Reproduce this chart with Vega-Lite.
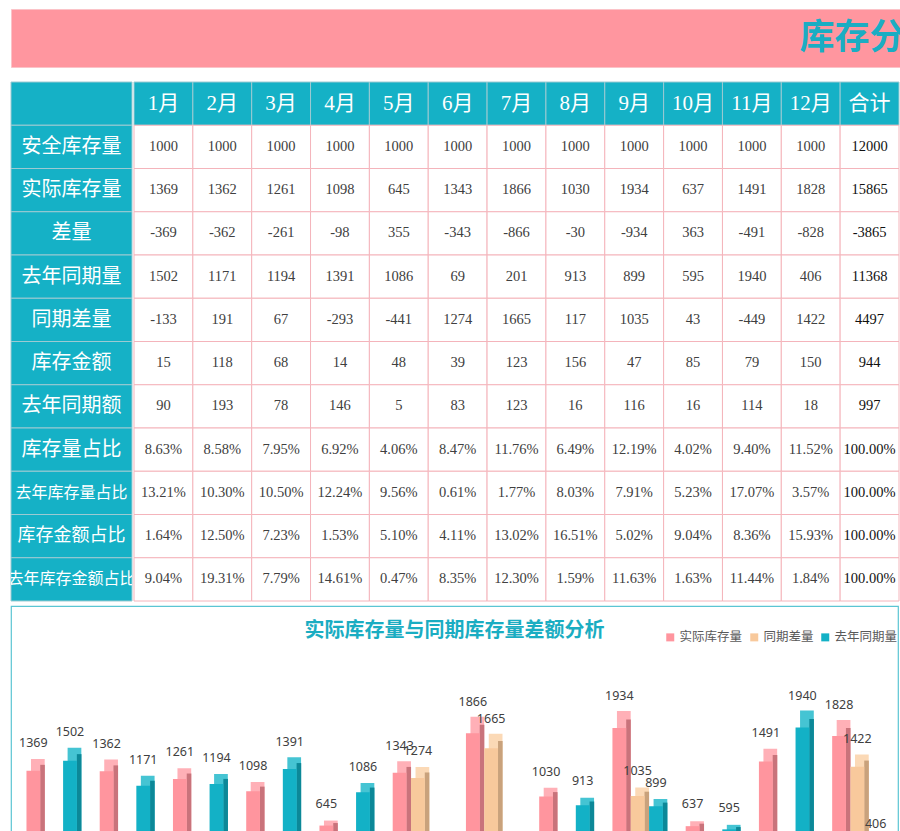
{
  "$schema": "https://vega.github.io/schema/vega-lite/v6.json",
  "padding": {"left": 10, "top": 8, "right": 0, "bottom": 0},
  "spacing": 13,
  "config": {"view": {"stroke": null}, "concat": {"spacing": 0}},
  "datasets": {
    "tbl": [
      {"r": "", "1月": "1月", "2月": "2月", "3月": "3月", "4月": "4月", "5月": "5月", "6月": "6月", "7月": "7月", "8月": "8月", "9月": "9月", "10月": "10月", "11月": "11月", "12月": "12月", "合计": "合计"},
      {"r": "安全库存量", "1月": "1000", "2月": "1000", "3月": "1000", "4月": "1000", "5月": "1000", "6月": "1000", "7月": "1000", "8月": "1000", "9月": "1000", "10月": "1000", "11月": "1000", "12月": "1000", "合计": "12000"},
      {"r": "实际库存量", "1月": "1369", "2月": "1362", "3月": "1261", "4月": "1098", "5月": "645", "6月": "1343", "7月": "1866", "8月": "1030", "9月": "1934", "10月": "637", "11月": "1491", "12月": "1828", "合计": "15865"},
      {"r": "差量", "1月": "-369", "2月": "-362", "3月": "-261", "4月": "-98", "5月": "355", "6月": "-343", "7月": "-866", "8月": "-30", "9月": "-934", "10月": "363", "11月": "-491", "12月": "-828", "合计": "-3865"},
      {"r": "去年同期量", "1月": "1502", "2月": "1171", "3月": "1194", "4月": "1391", "5月": "1086", "6月": "69", "7月": "201", "8月": "913", "9月": "899", "10月": "595", "11月": "1940", "12月": "406", "合计": "11368"},
      {"r": "同期差量", "1月": "-133", "2月": "191", "3月": "67", "4月": "-293", "5月": "-441", "6月": "1274", "7月": "1665", "8月": "117", "9月": "1035", "10月": "43", "11月": "-449", "12月": "1422", "合计": "4497"},
      {"r": "库存金额", "1月": "15", "2月": "118", "3月": "68", "4月": "14", "5月": "48", "6月": "39", "7月": "123", "8月": "156", "9月": "47", "10月": "85", "11月": "79", "12月": "150", "合计": "944"},
      {"r": "去年同期额", "1月": "90", "2月": "193", "3月": "78", "4月": "146", "5月": "5", "6月": "83", "7月": "123", "8月": "16", "9月": "116", "10月": "16", "11月": "114", "12月": "18", "合计": "997"},
      {"r": "库存量占比", "1月": "8.63%", "2月": "8.58%", "3月": "7.95%", "4月": "6.92%", "5月": "4.06%", "6月": "8.47%", "7月": "11.76%", "8月": "6.49%", "9月": "12.19%", "10月": "4.02%", "11月": "9.40%", "12月": "11.52%", "合计": "100.00%"},
      {"r": "去年库存量占比", "1月": "13.21%", "2月": "10.30%", "3月": "10.50%", "4月": "12.24%", "5月": "9.56%", "6月": "0.61%", "7月": "1.77%", "8月": "8.03%", "9月": "7.91%", "10月": "5.23%", "11月": "17.07%", "12月": "3.57%", "合计": "100.00%"},
      {"r": "库存金额占比", "1月": "1.64%", "2月": "12.50%", "3月": "7.23%", "4月": "1.53%", "5月": "5.10%", "6月": "4.11%", "7月": "13.02%", "8月": "16.51%", "9月": "5.02%", "10月": "9.04%", "11月": "8.36%", "12月": "15.93%", "合计": "100.00%"},
      {"r": "去年库存金额占比", "1月": "9.04%", "2月": "19.31%", "3月": "7.79%", "4月": "14.61%", "5月": "0.47%", "6月": "8.35%", "7月": "12.30%", "8月": "1.59%", "9月": "11.63%", "10月": "1.63%", "11月": "11.44%", "12月": "1.84%", "合计": "100.00%"}
    ],
    "bars": [
      {"m": "1月", "实际库存量": 1369, "同期差量": -133, "去年同期量": 1502},
      {"m": "2月", "实际库存量": 1362, "同期差量": 191, "去年同期量": 1171},
      {"m": "3月", "实际库存量": 1261, "同期差量": 67, "去年同期量": 1194},
      {"m": "4月", "实际库存量": 1098, "同期差量": -293, "去年同期量": 1391},
      {"m": "5月", "实际库存量": 645, "同期差量": -441, "去年同期量": 1086},
      {"m": "6月", "实际库存量": 1343, "同期差量": 1274, "去年同期量": 69},
      {"m": "7月", "实际库存量": 1866, "同期差量": 1665, "去年同期量": 201},
      {"m": "8月", "实际库存量": 1030, "同期差量": 117, "去年同期量": 913},
      {"m": "9月", "实际库存量": 1934, "同期差量": 1035, "去年同期量": 899},
      {"m": "10月", "实际库存量": 637, "同期差量": 43, "去年同期量": 595},
      {"m": "11月", "实际库存量": 1491, "同期差量": -449, "去年同期量": 1940},
      {"m": "12月", "实际库存量": 1828, "同期差量": 1422, "去年同期量": 406}
    ]
  },
  "vconcat": [
    {
      "width": 889,
      "height": 58,
      "view": {"fill": "#FF969F", "stroke": "#FBC3C8"},
      "data": {"values": [{"t": "库存分析表"}]},
      "mark": {"type": "text", "clip": true, "align": "left", "baseline": "middle", "dx": 344, "fontSize": 35, "fontWeight": "bold", "font": "Noto Sans CJK SC", "color": "#1AADC3"},
      "encoding": {"text": {"field": "t", "type": "nominal"}}
    },
    {
      "spacing": 3,
      "vconcat": [
        {
          "spacing": 0,
          "hconcat": [
            {
              "width": 121,
              "height": 519,
              "data": {"name": "tbl"},
              "encoding": {
                "y": {"field": "r", "type": "nominal", "axis": null,
                  "scale": {"domain": ["", "安全库存量", "实际库存量", "差量", "去年同期量", "同期差量", "库存金额", "去年同期额", "库存量占比", "去年库存量占比", "库存金额占比", "去年库存金额占比"], "paddingInner": 0, "paddingOuter": 0}}
              },
              "layer": [
                {"mark": {"type": "rect", "fill": "#15B1C6", "stroke": "#9CCAD2", "strokeWidth": 1}},
                {"mark": {"type": "text", "clip": true, "font": "Noto Sans CJK SC", "color": "#FFFFFF", "baseline": "middle"},
                  "encoding": {
                    "text": {"field": "r", "type": "nominal"},
                    "size": {"condition": [{"test": "length(datum.r) >= 7", "value": 16}, {"test": "length(datum.r) == 6", "value": 18}], "value": 20}
                  }}
              ]
            },
            {
              "width": 765,
              "height": 519,
              "data": {"name": "tbl"},
              "transform": [{"fold": ["1月", "2月", "3月", "4月", "5月", "6月", "7月", "8月", "9月", "10月", "11月", "12月", "合计"], "as": ["c", "v"]}],
              "encoding": {
                "x": {"field": "c", "type": "nominal", "axis": null,
                  "scale": {"domain": ["1月", "2月", "3月", "4月", "5月", "6月", "7月", "8月", "9月", "10月", "11月", "12月", "合计"], "paddingInner": 0, "paddingOuter": 0}},
                "y": {"field": "r", "type": "nominal", "axis": null,
                  "scale": {"domain": ["", "安全库存量", "实际库存量", "差量", "去年同期量", "同期差量", "库存金额", "去年同期额", "库存量占比", "去年库存量占比", "库存金额占比", "去年库存金额占比"], "paddingInner": 0, "paddingOuter": 0}}
              },
              "layer": [
                {"mark": {"type": "rect", "strokeWidth": 1},
                  "encoding": {
                    "fill": {"condition": {"test": "datum.r === ''", "value": "#15B1C6"}, "value": "#FFFFFF"},
                    "stroke": {"condition": {"test": "datum.r === ''", "value": "#9CCAD2"}, "value": "#F4B4BB"}
                  }},
                {"transform": [{"filter": "datum.r !== ''"}],
                  "mark": {"type": "text", "font": "Liberation Serif", "fontSize": 14.5, "baseline": "middle"},
                  "encoding": {
                    "text": {"field": "v", "type": "nominal"},
                    "color": {"condition": {"test": "datum.c === '合计'", "value": "#111111"}, "value": "#404040"}
                  }},
                {"transform": [{"filter": "datum.r === ''"}],
                  "mark": {"type": "text", "font": "Liberation Serif, Noto Sans CJK SC", "fontSize": 21, "color": "#FFFFFF", "baseline": "middle"},
                  "encoding": {"text": {"field": "v", "type": "nominal"}}}
              ]
            }
          ]
        },
        {
          "width": 887,
          "height": 226,
          "view": {"stroke": "#5BC5D3", "strokeWidth": 1.2, "fill": "#FFFFFF"},
          "title": {"text": "实际库存量与同期库存量差额分析", "font": "Noto Sans CJK SC", "fontSize": 20, "fontWeight": "bold", "color": "#1AADC2", "anchor": "middle", "frame": "group", "offset": -35},
          "data": {"name": "bars"},
          "transform": [{"fold": ["实际库存量", "同期差量", "去年同期量"], "as": ["s", "v"]}],
          "encoding": {
            "xOffset": {"field": "s", "type": "nominal",
              "scale": {"domain": ["实际库存量", "同期差量", "去年同期量"], "paddingInner": 0.25, "paddingOuter": 0.125}}
          },
          "layer": [
            {"mark": {"type": "bar", "clip": true},
              "encoding": {
                "x": {"field": "m", "type": "nominal", "axis": null,
                  "scale": {"domain": ["1月", "2月", "3月", "4月", "5月", "6月", "7月", "8月", "9月", "10月", "11月", "12月"], "paddingInner": 0.25, "paddingOuter": 0.18, "align": 0.671}},
                "y": {"field": "v", "type": "quantitative", "axis": null, "scale": {"domain": [510.6, 3169], "zero": false, "nice": false}},
                "y2": {"datum": 0},
                "color": {"field": "s", "type": "nominal", "legend": null,
                  "scale": {"domain": ["实际库存量", "同期差量", "去年同期量"], "range": ["#FFB0B7", "#FBD9B6", "#45C4D3"]}}
              }},
            {"mark": {"type": "bar", "clip": true, "width": 4.6},
              "encoding": {
                "x": {"field": "m", "type": "nominal", "axis": null,
                  "scale": {"domain": ["1月", "2月", "3月", "4月", "5月", "6月", "7月", "8月", "9月", "10月", "11月", "12月"], "paddingInner": 0.25, "paddingOuter": 0.18, "align": 0.849}},
                "y": {"field": "v", "type": "quantitative", "axis": null, "scale": {"domain": [533.6, 3344.5], "zero": false, "nice": false}},
                "y2": {"datum": 0},
                "color": {"field": "s", "type": "nominal", "legend": null,
                  "scale": {"domain": ["实际库存量", "同期差量", "去年同期量"], "range": ["#C9737B", "#C9A27C", "#0C8898"]}}
              }},
            {"mark": {"type": "bar", "clip": true},
              "encoding": {
                "x": {"field": "m", "type": "nominal", "axis": null,
                  "scale": {"domain": ["1月", "2月", "3月", "4月", "5月", "6月", "7月", "8月", "9月", "10月", "11月", "12月"], "paddingInner": 0.25, "paddingOuter": 0.18}},
                "y": {"field": "v", "type": "quantitative", "axis": null, "scale": {"domain": [560, 3546], "zero": false, "nice": false}},
                "y2": {"datum": 0},
                "color": {"field": "s", "type": "nominal",
                  "scale": {"domain": ["实际库存量", "同期差量", "去年同期量"], "range": ["#FF959E", "#F8C99C", "#13B1C6"]},
                  "legend": {"title": null, "orient": "none", "legendX": 653, "legendY": 25, "direction": "horizontal", "symbolType": "square", "symbolSize": 64, "symbolStrokeWidth": 0, "labelFont": "Noto Sans CJK SC", "labelFontSize": 12.5, "labelColor": "#595959", "labelOffset": 3, "columnPadding": 5}}
              }},
            {"mark": {"type": "text", "clip": true, "baseline": "middle", "font": "Noto Sans", "fontSize": 12.5, "color": "#404040"},
              "encoding": {
                "x": {"field": "m", "type": "nominal", "axis": null,
                  "scale": {"domain": ["1月", "2月", "3月", "4月", "5月", "6月", "7月", "8月", "9月", "10月", "11月", "12月"], "paddingInner": 0.25, "paddingOuter": 0.18}},
                "xOffset": {"field": "s", "type": "nominal",
                  "scale": {"type": "point", "domain": ["实际库存量", "同期差量", "去年同期量"], "padding": 0.5}},
                "y": {"field": "v", "type": "quantitative", "axis": null, "scale": {"domain": [305, 3022], "zero": false, "nice": false}},
                "text": {"field": "v", "type": "quantitative"}
              }}
          ],
          "resolve": {"scale": {"color": "independent", "y": "independent", "x": "independent", "xOffset": "independent"}}
        }
      ]
    }
  ]
}
